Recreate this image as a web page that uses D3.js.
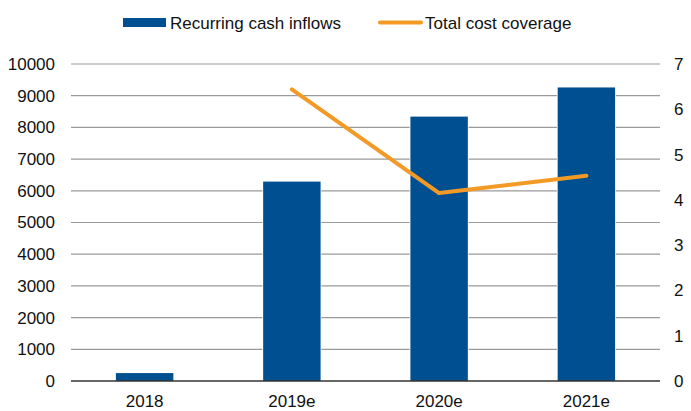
<!DOCTYPE html>
<html>
<head>
<meta charset="utf-8">
<script src="https://cdn.jsdelivr.net/npm/d3@7"></script>
<style>
  body { margin: 0; background: #fff; }
  svg { font-family: "Liberation Sans", Arial, sans-serif; }
</style>
</head>
<body>
<svg id="chart"></svg>
<script>
// chart data
let years = ['2018', '2019e', '2020e', '2021e']
let cashInflows = [250, 6290, 8340, 9260]
let coverageYears = ['2019e', '2020e', '2021e']
let coverage = [6.44, 4.15, 4.53]
let leftTicks = [0, 1000, 2000, 3000, 4000, 5000, 6000, 7000, 8000, 9000, 10000]
let rightTicks = [0, 1, 2, 3, 4, 5, 6, 7]

let width = 691
let height = 411
let plotLeft = 71
let plotRight = 660
let plotTop = 64
let plotBottom = 381

let blue = '#004f91'
let orange = '#f39a26'
let fontSize = 17

let svg = d3.select('#chart')
    .attr('width', width)
    .attr('height', height)

let xScale = d3.scaleBand()
    .domain(years)
    .range([plotLeft, plotRight])
    .paddingInner(0.61)
    .paddingOuter(0.305)

let yLeft = d3.scaleLinear()
    .domain([0, 10000])
    .range([plotBottom, plotTop])

let yRight = d3.scaleLinear()
    .domain([0, 7])
    .range([plotBottom, plotTop])

// gridlines
svg.append('g')
    .selectAll('line')
    .data(leftTicks.slice(1))
    .enter()
    .append('line')
    .attr('x1', plotLeft)
    .attr('x2', plotRight)
    .attr('y1', d => yLeft(d))
    .attr('y2', d => yLeft(d))
    .attr('stroke', '#9a9a9a')
    .attr('stroke-width', 1.2)

// bars
svg.append('g')
    .selectAll('rect')
    .data(cashInflows)
    .enter()
    .append('rect')
    .attr('x', (d, i) => xScale(years[i]))
    .attr('y', d => yLeft(d))
    .attr('width', xScale.bandwidth())
    .attr('height', d => plotBottom - yLeft(d))
    .attr('fill', blue)
    .attr('stroke', '#fff')
    .attr('stroke-width', 1.5)
    .attr('paint-order', 'stroke')

// bottom axis line
svg.append('line')
    .attr('x1', plotLeft)
    .attr('x2', plotRight)
    .attr('y1', plotBottom)
    .attr('y2', plotBottom)
    .attr('stroke', '#333')
    .attr('stroke-width', 1.5)

// line series
let line = d3.line()
    .x((d, i) => xScale(coverageYears[i]) + xScale.bandwidth() / 2)
    .y(d => yRight(d))

svg.append('path')
    .datum(coverage)
    .attr('d', line)
    .attr('fill', 'none')
    .attr('stroke', orange)
    .attr('stroke-width', 4)
    .attr('stroke-linecap', 'round')
    .attr('stroke-linejoin', 'round')

// axes (text only)
let yAxisLeft = d3.axisLeft(yLeft).tickValues(leftTicks).tickFormat(d3.format('d')).tickSize(0).tickPadding(16)
let yAxisRight = d3.axisRight(yRight).tickValues(rightTicks).tickFormat(d3.format('d')).tickSize(0).tickPadding(14)
let xAxis = d3.axisBottom(xScale).tickSize(0).tickPadding(14)

let styleAxis = g => {
    g.select('.domain').remove()
    g.selectAll('text')
        .attr('font-size', fontSize)
        .attr('fill', '#111')
        .attr('font-family', '"Liberation Sans", Arial, sans-serif')
}

svg.append('g')
    .attr('transform', 'translate(' + plotLeft + ',0)')
    .call(yAxisLeft)
    .call(styleAxis)

svg.append('g')
    .attr('transform', 'translate(' + plotRight + ',0)')
    .call(yAxisRight)
    .call(styleAxis)

svg.append('g')
    .attr('transform', 'translate(0,' + plotBottom + ')')
    .call(xAxis)
    .call(styleAxis)

// legend
let legend = svg.append('g')
legend.append('rect')
    .attr('x', 123).attr('y', 18)
    .attr('width', 43).attr('height', 9)
    .attr('fill', blue)
legend.append('text')
    .attr('x', 170).attr('y', 29)
    .attr('font-size', fontSize)
    .attr('fill', '#111')
    .text('Recurring cash inflows')
legend.append('line')
    .attr('x1', 380).attr('x2', 421)
    .attr('y1', 22.5).attr('y2', 22.5)
    .attr('stroke', orange)
    .attr('stroke-width', 4)
    .attr('stroke-linecap', 'round')
legend.append('text')
    .attr('x', 425).attr('y', 29)
    .attr('font-size', fontSize)
    .attr('fill', '#111')
    .text('Total cost coverage')
</script>
</body>
</html>
